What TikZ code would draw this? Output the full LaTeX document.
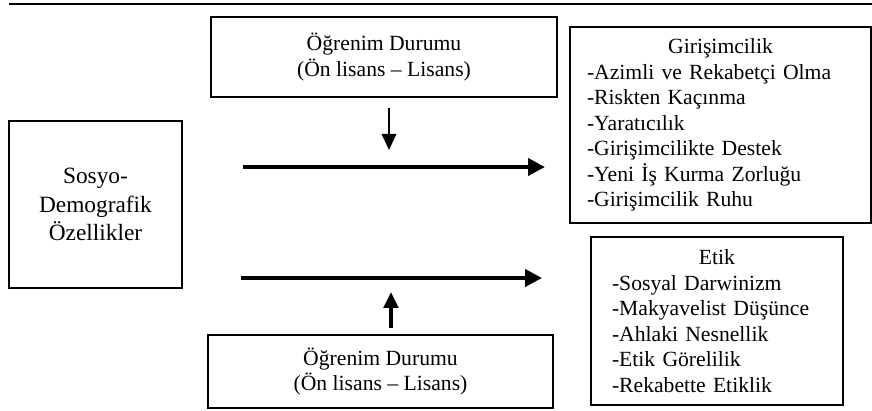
\documentclass[tikz,border=0pt]{standalone}
\usepackage{fontspec}
\setmainfont{Liberation Serif}
\usetikzlibrary{arrows.meta,positioning}

\tikzset{
	box/.style={draw, line width=1.4pt, inner sep=0pt, align=center, font=\fontsize{15.4}{18.2}\selectfont},
	list/.style={box, align=left},
	flow/.style={line width=2.8pt, -{Triangle[length=0.425cm, width=0.425cm]}},
	rise/.style={line width=1.8pt, -{Triangle[length=0.4cm, width=0.36cm]}}
}

\begin{document}
\begin{tikzpicture}
	\useasboundingbox (0,0) rectangle (21.8,10.25);
	\draw [line width=1.4pt] (0.225,10.14) -- (21.8,10.14);

	\node [box, minimum width=4.325cm, minimum height=4.175cm, font=\fontsize{16.6}{20}\selectfont]	(SosyoDemografik)	at (2.3875, 5.1375) {Sosyo-\\Demografik\\Özellikler};
	\node [box, minimum width=8.65cm, minimum height=2cm]	(OgrenimUst)	at (9.6, 8.825) {Öğrenim Durumu\\(Ön lisans -- Lisans)};
	\node [box, minimum width=8.625cm, minimum height=1.825cm]	(OgrenimAlt)	at (9.5125, 0.9625) {Öğrenim Durumu\\(Ön lisans -- Lisans)};
	\node [list, text width=6.675cm, inner xsep=0.425cm, minimum height=4.9cm]	(Girisimcilik)	at (18.0125, 7.125)
		{\makebox[\linewidth]{Girişimcilik}\\-Azimli ve Rekabetçi Olma\\-Riskten Kaçınma\\-Yaratıcılık\\-Girişimcilikte Destek\\-Yeni İş Kurma Zorluğu\\-Girişimcilik Ruhu};
	\node [list, text width=5.25cm, inner xsep=0.525cm, minimum height=4.2cm]	(Etik)	at (17.925, 2.225)
		{\makebox[\linewidth]{Etik}\\-Sosyal Darwinizm\\-Makyavelist Düşünce\\-Ahlaki Nesnellik\\-Etik Görelilik\\-Rekabette Etiklik};

	\coordinate (UstOk)		at (13.625, 6.075);
	\coordinate (AltOk)		at (13.55, 3.3);
	\coordinate (AsagiOk)	at (9.725, 6.5);
	\coordinate (YukariOk)	at (9.775, 2.95);

	\draw [flow, shorten <=1.5cm]	(SosyoDemografik.east |- UstOk) -- (UstOk);
	\draw [flow, shorten <=1.45cm]	(SosyoDemografik.east |- AltOk) -- (AltOk);
	\draw [rise, line width=1.6pt, shorten <=0.25cm]	(OgrenimUst.south -| AsagiOk) -- (AsagiOk);
	\draw [rise, line width=2.6pt, shorten <=0.15cm]	(OgrenimAlt.north -| YukariOk) -- (YukariOk);
\end{tikzpicture}
\end{document}
